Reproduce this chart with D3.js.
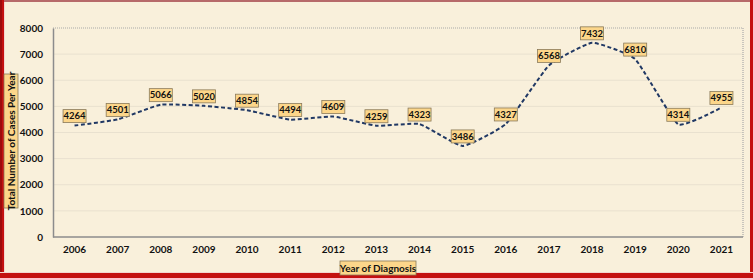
<!DOCTYPE html>
<html><head><meta charset="utf-8">
<script src="https://cdn.jsdelivr.net/npm/d3@7"></script>
<style>
html,body{margin:0;padding:0;background:#fff;}
svg{display:block;}
</style></head>
<body>
<svg id="chart" width="753" height="278"></svg>
<script>
const years = ["2006","2007","2008","2009","2010","2011","2012","2013","2014","2015","2016","2017","2018","2019","2020","2021"];
const cases = [4264,4501,5066,5020,4854,4494,4609,4259,4323,3486,4327,6568,7432,6810,4314,4955];
const yTicks = [0,1000,2000,3000,4000,5000,6000,7000,8000];
const xTitle = "Year of Diagnosis";
const yTitle = "Total Number of Cases Per Year";

(function(){
const W = 753, H = 278;
const svg = d3.select("#chart");
const font = "Lato, 'Open Sans', sans-serif";

// background + frame
svg.append("rect").attr("x",0).attr("y",0).attr("width",W).attr("height",H).attr("fill","#f9f0db");
svg.append("rect").attr("x",0).attr("y",0).attr("width",W).attr("height",2).attr("fill","#b76a6a");
svg.append("rect").attr("x",0).attr("y",0).attr("width",4).attr("height",H).attr("fill","#c41010");
svg.append("rect").attr("x",0).attr("y",0).attr("width",2).attr("height",H).attr("fill","#9e0b0b");
svg.append("rect").attr("x",4).attr("y",2).attr("width",1).attr("height",H).attr("fill","#f3d6d0");
svg.append("rect").attr("x",W-3).attr("y",0).attr("width",3).attr("height",H).attr("fill","#c41010");
svg.append("rect").attr("x",0).attr("y",273).attr("width",W).attr("height",5).attr("fill","#c41010");
svg.append("rect").attr("x",0).attr("y",272).attr("width",W).attr("height",1).attr("fill","#f3d6d0");

const pLeft = 53, pRight = 743, pTop = 28, pBottom = 237;
const x = d3.scaleBand().domain(years).range([pLeft, pRight]);
const y = d3.scaleLinear().domain([0, 8000]).range([pBottom, pTop]);

// gridlines
svg.append("g").selectAll("line").data(yTicks.filter(d => d > 0 && d < 8000)).join("line")
  .attr("x1", pLeft).attr("x2", pRight)
  .attr("y1", d => y(d)).attr("y2", d => y(d))
  .attr("stroke", "#e9e1cf").attr("stroke-width", 1);

// plot border dotted (top + right)
svg.append("path")
  .attr("d", `M${pLeft},${y(8000)}H${pRight}V${pBottom}`)
  .attr("fill","none").attr("stroke","#a9a9a9").attr("stroke-width",1.2).attr("stroke-dasharray","1,1");

// axes
const yAxis = d3.axisLeft(y).tickValues(yTicks).tickSize(0).tickPadding(10).tickFormat(d3.format("d"));
const gy = svg.append("g").attr("transform", `translate(${pLeft},0)`).call(yAxis);
gy.select(".domain").attr("stroke","#8c8c8c").attr("stroke-width",1.5);
gy.selectAll("text").attr("font-family", font).attr("font-weight","bold").attr("font-size","10px").attr("fill","#111");

const xAxis = d3.axisBottom(x).tickSize(0).tickPadding(9);
const gx = svg.append("g").attr("transform", `translate(0,${pBottom})`).call(xAxis);
gx.select(".domain").attr("d", `M${pLeft},0H${pRight}`).attr("stroke","#8c8c8c").attr("stroke-width",1.5);
gx.selectAll("text").attr("font-family", font).attr("font-weight","bold").attr("font-size","10px").attr("fill","#111");

// line
const line = d3.line()
  .x((d,i) => x(years[i]) + x.bandwidth()/2)
  .y(d => y(d))
  .curve(d3.curveCardinal.tension(0.6));
svg.append("path").datum(cases).attr("d", line)
  .attr("fill","none").attr("stroke","#203864").attr("stroke-width",2)
  .attr("stroke-dasharray","4,2.5");

// data labels
const lbl = svg.append("g").selectAll("g").data(cases).join("g")
  .attr("transform", (d,i) => `translate(${x(years[i]) + x.bandwidth()/2},${y(d) - 9.5})`);
lbl.append("rect").attr("x",-11.5).attr("y",-6.5).attr("width",23).attr("height",13)
  .attr("fill","#fcd68a").attr("stroke","#8a7a5a").attr("stroke-width",0.8);
lbl.append("text").text(d => d).attr("text-anchor","middle").attr("dy","0.35em")
  .attr("font-family", font).attr("font-weight","bold").attr("font-size","9.5px").attr("fill","#111");

// x title
const xt = svg.append("g").attr("transform","translate(378,268)");
xt.append("rect").attr("x",-38).attr("y",-7).attr("width",76).attr("height",14)
  .attr("fill","#fcd68a").attr("stroke","#8a7a5a").attr("stroke-width",0.8);
xt.append("text").text(xTitle).attr("text-anchor","middle").attr("dy","0.35em")
  .attr("font-family", font).attr("font-weight","bold").attr("font-size","10px").attr("fill","#111");

// y title
const yt = svg.append("g").attr("transform","translate(11,141) rotate(-90)");
yt.append("rect").attr("x",-67).attr("y",-7).attr("width",134).attr("height",14)
  .attr("fill","#fcd68a").attr("stroke","#8a7a5a").attr("stroke-width",0.8);
yt.append("text").text(yTitle).attr("text-anchor","middle").attr("dy","0.35em")
  .attr("font-family", font).attr("font-weight","bold").attr("font-size","10px").attr("fill","#111");
})();
</script>
</body></html>
